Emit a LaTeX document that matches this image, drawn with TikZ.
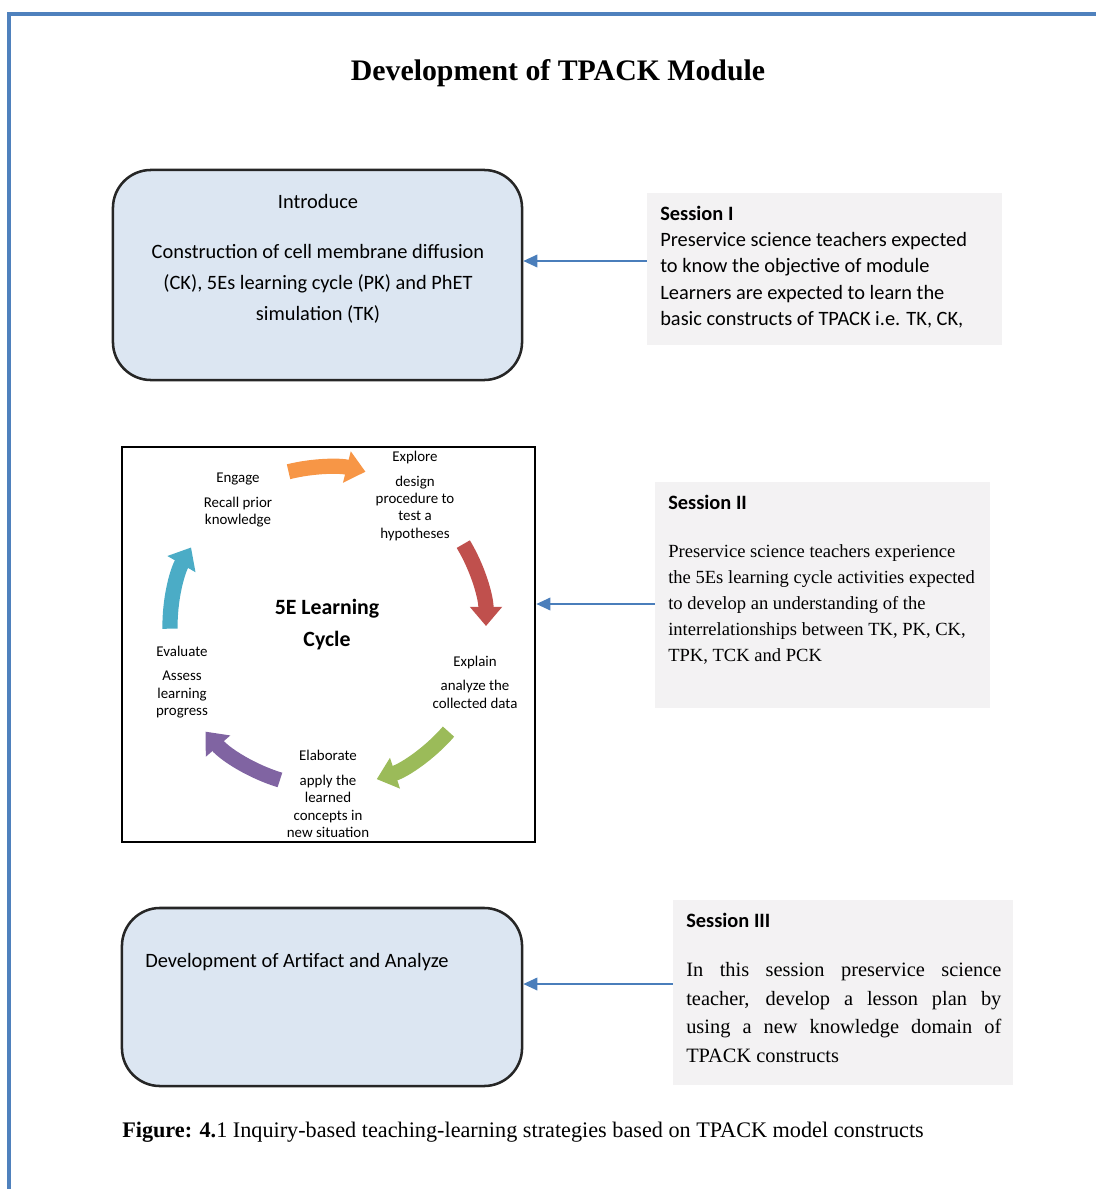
\documentclass[tikz,border=0pt]{standalone}
\usepackage{fontspec}
\setmainfont{Liberation Serif}
\newfontfamily\calibri{Carlito}
\usetikzlibrary{positioning, arrows.meta}
\definecolor{frameblue}{HTML}{4F81BD}
\definecolor{phasefill}{HTML}{DCE6F2}
\definecolor{phaseline}{HTML}{262626}
\definecolor{sessfill}{HTML}{F3F2F3}
\definecolor{linkblue}{HTML}{4A7EBB}
\definecolor{cycorange}{HTML}{F79646}
\definecolor{cycred}{HTML}{C0504D}
\definecolor{cycgreen}{HTML}{9BBB59}
\definecolor{cycpurple}{HTML}{8064A2}
\definecolor{cycteal}{HTML}{4BACC6}
\tikzset{phase/.style={rectangle, rounded corners=0.95cm, draw=phaseline, fill=phasefill, line width=1.8pt},
         session/.style={rectangle, fill=sessfill},
         calib/.style={font=\calibri\fontsize{14.5}{22}\selectfont},
         sesstext/.style={anchor=north west, inner sep=0pt, align=left},
         label5e/.style={align=center, font=\calibri\fontsize{10.6}{12.4}\selectfont},
         link/.style={draw=linkblue, line width=1.1pt, -{Triangle[width=9pt, length=10pt]}},
         cycarrow/.style={line width=0.38cm, -{Triangle[width=0.78cm, length=0.48cm]}}}
\begin{document}
\begin{tikzpicture}[x=0.025cm, y=-0.025cm]
    \useasboundingbox (0,0) rectangle (1096,1189);
    \draw[frameblue, line width=2.2pt] (9,1200) -- (9,14) -- (1110,14);
    \node (title) at (558,73) {\fontsize{21.2}{25}\selectfont\bfseries Development of TPACK Module};
    % session I
    \node (intro)[phase, minimum width=10.225cm, minimum height=5.25cm] at (317.5,275) {};
    \node (introtxt)[calib, align=center] at (318,259) {Introduce\\[13.6pt] Construction of cell membrane diffusion\\ (CK), 5Es learning cycle (PK) and PhET\\ simulation (TK)};
    \node (s1)[session, minimum width=8.875cm, minimum height=3.8cm] at (824.5,269) {};
    \node (s1txt)[sesstext, font=\calibri\fontsize{14.5}{18.6}\selectfont] at (660,206) {\textbf{Session I}\\ Preservice science teachers expected\\ to know the objective of module\\ Learners are expected to learn the\\ basic constructs of TPACK i.e. TK, CK,};
    \draw[link] (s1.west |- 0,261) -- (intro.east |- 0,261);
    % session II
    \node (cycle)[draw, line width=1.8pt, minimum width=10.325cm, minimum height=9.875cm] at (328.5,644.5) {};
    \begin{scope}[shift={(327,626)}, y=0.025cm]
        \draw[cycarrow, cycorange] (104:159) arc[start angle=104, end angle=76, radius=3.975cm];
        \draw[cycarrow, cycred] (31:159) arc[start angle=31, end angle=0, radius=3.975cm];
        \draw[cycarrow, cycgreen] (-41:161) arc[start angle=-41, end angle=-72, radius=4.025cm];
        \draw[cycarrow, cycpurple] (-107:161) arc[start angle=-107, end angle=-139, radius=4.025cm];
        \draw[cycarrow, cycteal] (181:157) arc[start angle=181, end angle=150, radius=3.925cm];
    \end{scope}
    \node (cyctitle)[align=center, font=\calibri\bfseries\fontsize{15.5}{22.8}\selectfont] at (327,625) {5E Learning\\ Cycle};
    \node (engage)[label5e] at (238,500) {Engage\\[5pt] Recall prior\\ knowledge};
    \node (explore)[label5e] at (415,496) {Explore\\[5pt] design\\ procedure to\\ test a\\ hypotheses};
    \node (explain)[label5e] at (475,682) {Explain\\[5pt] analyze the\\ collected data};
    \node (elaborate)[label5e] at (328,794) {Elaborate\\[5pt] apply the\\ learned\\ concepts in\\ new situation};
    \node (evaluate)[label5e] at (182,682) {Evaluate\\[5pt] Assess\\ learning\\ progress};
    \node (s2)[session, minimum width=8.375cm, minimum height=5.65cm] at (822.5,595) {};
    \node (s2txt)[sesstext, font=\fontsize{13.2}{18.5}\selectfont] at (668,495) {{\calibri\bfseries\fontsize{14.5}{18.5}\selectfont Session II}\\[15.6pt] Preservice science teachers experience\\ the 5Es learning cycle activities expected\\ to develop an understanding of the\\ interrelationships between TK, PK, CK,\\ TPK, TCK and PCK};
    \draw[link] (s2.west |- 0,604) -- (cycle.east |- 0,604);
    % session III
    \node (art)[phase, minimum width=10cm, minimum height=4.45cm] at (322,997) {};
    \node (arttxt)[calib, anchor=west, inner sep=0pt] at (145,962) {Development of Artifact and Analyze};
    \node (s3)[session, minimum width=8.5cm, minimum height=4.625cm] at (843,992.5) {};
    \node (s3txt)[sesstext, font=\fontsize{14.5}{20.4}\selectfont] at (686,913) {{\calibri\bfseries Session III}\\[14.4pt] \makebox[7.875cm][s]{In this session preservice science}\\ \makebox[7.875cm][s]{teacher, develop a lesson plan by}\\ \makebox[7.875cm][s]{using a new knowledge domain of}\\ TPACK constructs};
    \draw[link] (s3.west |- 0,984) -- (art.east |- 0,984);
    \node (caption)[anchor=west, inner sep=0pt, font=\fontsize{15.8}{18}\selectfont] at (122,1132) {\textbf{Figure: 4.}1 Inquiry-based teaching-learning strategies based on TPACK model constructs};
\end{tikzpicture}
\end{document}
